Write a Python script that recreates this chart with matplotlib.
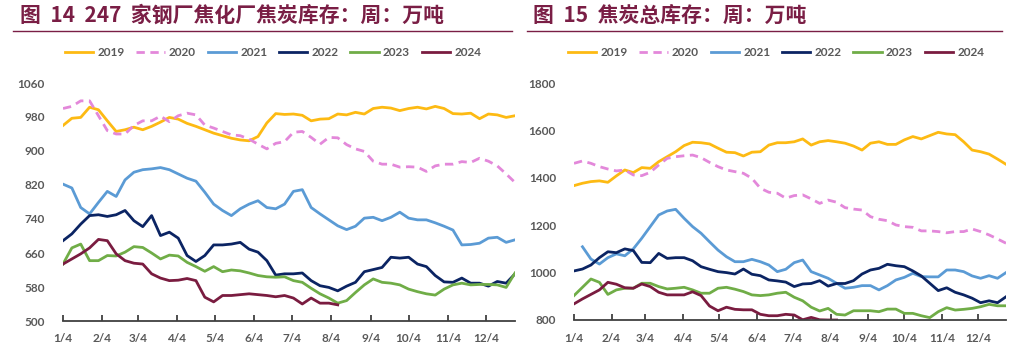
import matplotlib
matplotlib.use('Agg')
import matplotlib.pyplot as plt
from matplotlib.lines import Line2D
import numpy as np
import pandas as pd

plt.rcParams['font.family'] = ['Noto Sans CJK SC', 'DejaVu Sans']

# weekly points, same calendar for every year
weeks = pd.date_range('2019-01-04', periods=52, freq='7D')
month_ticks = pd.to_datetime(['2019-%02d-04' % m for m in range(1, 13)])
month_labels = ['1/4', '2/4', '3/4', '4/4', '5/4', '6/4', '7/4', '8/4', '9/4', '10/4', '11/4', '12/4']

years = ['2019', '2020', '2021', '2022', '2023', '2024']
colors = ['#FDBA13', '#E388DA', '#5B9BD5', '#0B2463', '#70AD47', '#7A1C40']
styles = ['-', '--', '-', '-', '-', '-']

# 图14 247家钢厂焦化厂焦炭库存
left_2019 = [960, 977, 979, 1003, 997, 971, 946, 950, 956, 950, 958, 968, 979, 975, 965, 958, 950, 942, 936, 930,
             926, 924, 934, 966, 988, 986, 987, 984, 971, 975, 976, 987, 985, 991, 987, 1000, 1003, 1001, 995, 1000,
             1003, 999, 1005, 1000, 988, 987, 989, 976, 987, 985, 979, 983]
left_2020 = [1000, 1005, 1018, 1018, 983, 948, 940, 940, 960, 971, 971, 982, 969, 983, 989, 985, 961, 954, 946, 938,
             936, 928, 916, 905, 918, 922, 944, 946, 932, 916, 932, 931, 915, 905, 899, 876, 869, 869, 862, 863,
             862, 852, 865, 869, 869, 875, 873, 883, 876, 865, 846, 826]
left_2021 = [822, 813, 767, 752, 779, 805, 793, 832, 850, 856, 858, 861, 856, 846, 836, 829, 803, 775, 760, 748,
             764, 775, 783, 767, 764, 775, 805, 809, 767, 752, 738, 724, 715, 723, 742, 744, 736, 744, 756, 742,
             738, 738, 731, 723, 714, 679, 680, 683, 695, 697, 685, 691]
left_2022 = [689, 705, 728, 748, 750, 746, 750, 760, 736, 722, 748, 701, 709, 695, 654, 640, 654, 679, 679, 681,
             685, 669, 662, 642, 608, 611, 611, 613, 595, 583, 579, 571, 582, 591, 616, 621, 626, 650, 648, 650,
             634, 628, 607, 592, 591, 601, 589, 589, 582, 593, 589, 611]
left_2023 = [634, 672, 681, 642, 642, 654, 653, 662, 675, 673, 660, 646, 655, 653, 638, 628, 617, 628, 616, 620,
             618, 613, 607, 604, 603, 604, 595, 591, 577, 564, 554, 542, 548, 567, 585, 599, 591, 589, 585, 575,
             569, 564, 561, 575, 585, 589, 585, 586, 586, 585, 579, 613]
left_2024 = [634, 646, 658, 672, 692, 689, 658, 642, 636, 634, 611, 601, 595, 596, 600, 595, 556, 545, 560, 560,
             562, 564, 562, 560, 557, 560, 554, 540, 554, 542, 542, 538]

# 图15 焦炭总库存
right_2019 = [1367, 1377, 1384, 1387, 1381, 1408, 1433, 1422, 1443, 1440, 1468, 1489, 1510, 1536, 1550, 1548, 1543,
              1525, 1508, 1506, 1492, 1508, 1510, 1538, 1548, 1548, 1552, 1564, 1538, 1552, 1557, 1552, 1546, 1534,
              1517, 1546, 1552, 1541, 1541, 1560, 1574, 1564, 1578, 1592, 1585, 1582, 1552, 1517, 1510, 1500, 1479,
              1457]
right_2020 = [1461, 1471, 1461, 1447, 1437, 1429, 1433, 1412, 1409, 1423, 1454, 1482, 1489, 1493, 1496, 1485, 1465,
              1447, 1433, 1426, 1419, 1398, 1356, 1339, 1335, 1314, 1325, 1328, 1311, 1292, 1306, 1297, 1274, 1268,
              1264, 1236, 1225, 1219, 1201, 1194, 1191, 1176, 1176, 1173, 1168, 1173, 1173, 1184, 1173, 1159, 1142,
              1124]
right_2021 = [np.nan, 1109, 1057, 1036, 1063, 1079, 1071, 1100, 1145, 1194, 1243, 1260, 1267, 1229, 1194, 1166, 1130,
              1095, 1067, 1046, 1046, 1056, 1046, 1032, 1004, 1014, 1042, 1053, 1004, 990, 976, 955, 934, 938, 945,
              945, 927, 945, 969, 980, 997, 983, 982, 982, 1011, 1011, 1004, 986, 976, 987, 976, 1000]
right_2022 = [1007, 1015, 1032, 1063, 1088, 1084, 1100, 1093, 1043, 1042, 1081, 1060, 1063, 1063, 1050, 1025, 1014,
              1004, 1000, 994, 1015, 993, 987, 969, 965, 960, 941, 952, 954, 966, 943, 954, 954, 966, 994, 1011, 1018,
              1035, 1029, 1025, 1007, 986, 955, 924, 936, 917, 906, 892, 873, 881, 873, 898]
right_2023 = [903, 938, 973, 959, 908, 927, 934, 934, 955, 955, 941, 931, 934, 938, 927, 913, 913, 934, 938, 930, 920,
              906, 903, 906, 913, 917, 896, 881, 854, 838, 849, 824, 821, 839, 839, 839, 835, 846, 846, 828, 828, 818,
              810, 835, 852, 842, 845, 849, 856, 866, 860, 860]
right_2024 = [868, 889, 908, 927, 959, 951, 936, 934, 952, 941, 917, 906, 906, 906, 919, 903, 859, 839, 854, 845, 843,
              843, 824, 818, 818, 824, 821, 801, 811, 801, 800, 800]

left_series = [left_2019, left_2020, left_2021, left_2022, left_2023, left_2024]
right_series = [right_2019, right_2020, right_2021, right_2022, right_2023, right_2024]

title_color = '#7A1E45'
tick_color = '#595959'
W, H = 1025, 356

fig = plt.figure(figsize=(W / 100, H / 100), dpi=100)


def panel(box, series, ylim, yticks, title, title_x, rule, legend_x):
    ax = fig.add_axes(box)
    for vals, c, ls, name in zip(series, colors, styles, years):
        ax.plot(weeks[:len(vals)], vals, color=c, ls=ls, lw=2.0, label=name,
                dashes=(3, 2) if ls == '--' else (None, None))
    ax.set_xlim(weeks[0], weeks[-1])
    ax.set_ylim(*ylim)
    ax.set_yticks(yticks)
    ax.set_xticks(month_ticks)
    ax.set_xticklabels(month_labels)
    for s in ['top', 'right', 'left']:
        ax.spines[s].set_visible(False)
    ax.spines['bottom'].set_color('#404040')
    ax.spines['bottom'].set_linewidth(1.3)
    ax.tick_params(axis='x', direction='in', length=4, width=1.3, color='#404040', pad=9)
    ax.tick_params(axis='y', length=0, pad=13)
    for lab in ax.get_xticklabels() + ax.get_yticklabels():
        lab.set_fontfamily('Lato')
        lab.set_fontweight('bold')
        lab.set_fontsize(8.5)
        lab.set_color(tick_color)
    fig.text(title_x / W, 1 - 15 / H, title, fontsize=15, fontweight='bold',
             color=title_color, ha='left', va='center')
    fig.add_artist(Line2D([rule[0] / W, rule[1] / W], [1 - 31 / H, 1 - 31 / H],
                          color=title_color, lw=1.0))
    handles = [Line2D([], [], color=c, ls=ls, lw=2.0, dashes=(3, 2) if ls == '--' else (None, None))
               for c, ls in zip(colors, styles)]
    leg = fig.legend(handles, years, loc='center', bbox_to_anchor=(legend_x / W, 1 - 53 / H),
                     ncol=6, frameon=False, handlelength=2.4, handletextpad=0.35, columnspacing=1.0,
                     prop={'family': 'Lato', 'weight': 'bold', 'size': 8.5})
    for t in leg.get_texts():
        t.set_color(tick_color)
    return ax


panel([63 / W, 35 / H, 452 / W, 238 / H], left_series, (500, 1060), range(500, 1061, 80),
      '图  14  247  家钢厂焦化厂焦炭库存：周：万吨', 20, (13, 512), 273)
panel([574 / W, 36 / H, 432 / W, 237 / H], right_series, (800, 1800), range(800, 1801, 200),
      '图  15  焦炭总库存：周：万吨', 533, (527, 1002), 776)

fig.savefig('out.png', dpi=100)
